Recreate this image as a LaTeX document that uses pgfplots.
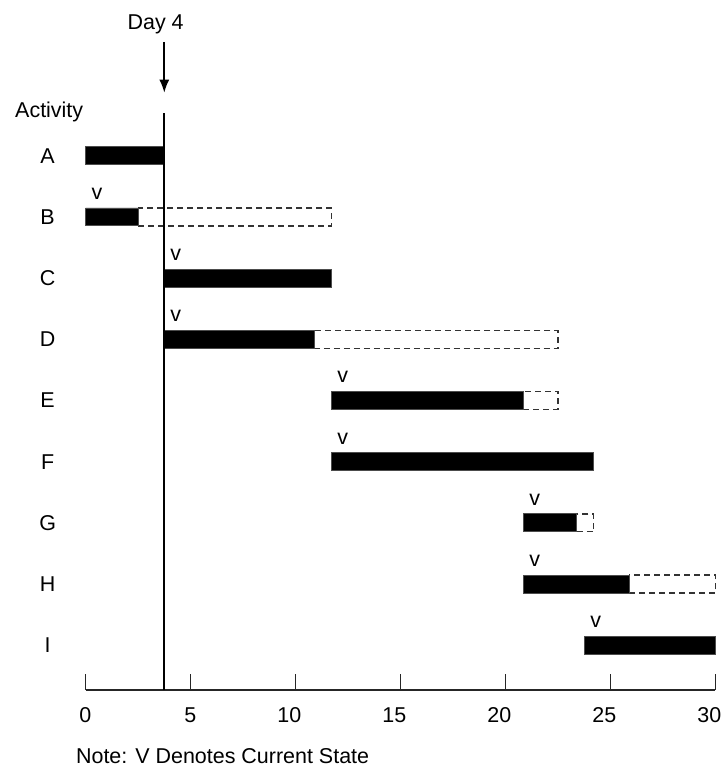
\documentclass[border=0pt]{standalone}
\usepackage{fontspec}
\setmainfont{Liberation Sans}
\usepackage{pgfplots}
\pgfplotsset{compat=1.18}
\usepackage{pgfplotstable}
\usetikzlibrary{arrows.meta}

\pgfplotstableread{
act y start solid rest
A 9 0     3.75  0
B 8 0     2.52  9.18
C 7 3.75  7.95  0
D 6 3.75  7.13  11.62
E 5 11.7  9.15  1.65
F 4 11.7  12.5  0
G 3 20.85 2.55  0.8
H 2 20.85 5.05  4.1
I 1 23.75 6.25  0
}\gantt

\pgfplotstableread{
x y
0.55  8.38
4.30  7.38
4.30  6.38
12.25 5.38
12.25 4.38
21.40 3.38
21.40 2.38
24.30 1.38
}\vmarks

\newcommand{\fs}{\fontsize{21.5bp}{25bp}\selectfont}

\begin{document}
\begin{tikzpicture}
\begin{axis}[
  scale only axis, width=631bp, height=691.4bp,
  xmin=0, xmax=30, ymin=0.266, ymax=11.545,
  clip=false,
  xbar stacked, bar width=18bp,
  axis x line*=bottom, axis y line*=left,
  y axis line style={draw=none},
  x axis line style={line width=1.4bp, black!85},
  xtick={0,5,...,30}, tick align=inside, major tick length=16bp,
  xtick style={line width=1.4bp, black!85},
  ytick={1,...,9}, yticklabels={I,H,G,F,E,D,C,B,A},
  ytick style={draw=none},
  tick label style={font=\fs, text=black},
  /pgf/number format/assume math mode=true,
  xticklabel style={anchor=north east, inner sep=0pt, xshift=6bp, yshift=-17bp},
  yticklabel style={anchor=center, xshift=-38bp},
]
\addplot[draw=none, fill=none] table[x=start, y=y] {\gantt};
\addplot[fill=black, draw=black!70, line width=0.8bp] table[x=solid, y=y] {\gantt};
\addplot[fill=white, draw=black!80, line width=1.3bp, dash pattern=on 6bp off 4bp] table[x=rest, y=y] {\gantt};
\end{axis}
\begin{axis}[
  scale only axis, width=631bp, height=691.4bp,
  xmin=0, xmax=30, ymin=0.266, ymax=11.545,
  clip=false, hide axis,
]
\addplot[black, line width=1.6bp] coordinates {(3.75,0.266) (3.75,9.70)};
\addplot[black, line width=1.6bp, -{Latex[length=13bp,width=10bp]}] coordinates {(3.75,10.86) (3.75,10.03)};
\addplot[only marks, mark=text, text mark={v}, text mark as node=true, text mark style={font=\fs, inner sep=0pt}] table[x=x, y=y] {\vmarks};
\node[font=\fs, inner sep=0] at (axis cs:3.34,11.14) {Day 4};
\node[font=\fs, inner sep=0, anchor=west] at (axis cs:-3.36,9.72) {Activity};
\node[font=\fs, inner sep=0, anchor=west] at (axis cs:-0.46,-0.82) {Note: V Denotes Current State};
\coordinate (BL) at (axis cs:-4.075,-1.023);
\coordinate (TR) at (axis cs:30.3,11.545);
\end{axis}
\pgfresetboundingbox
\path[use as bounding box] (BL) rectangle (TR);
\end{tikzpicture}
\end{document}
